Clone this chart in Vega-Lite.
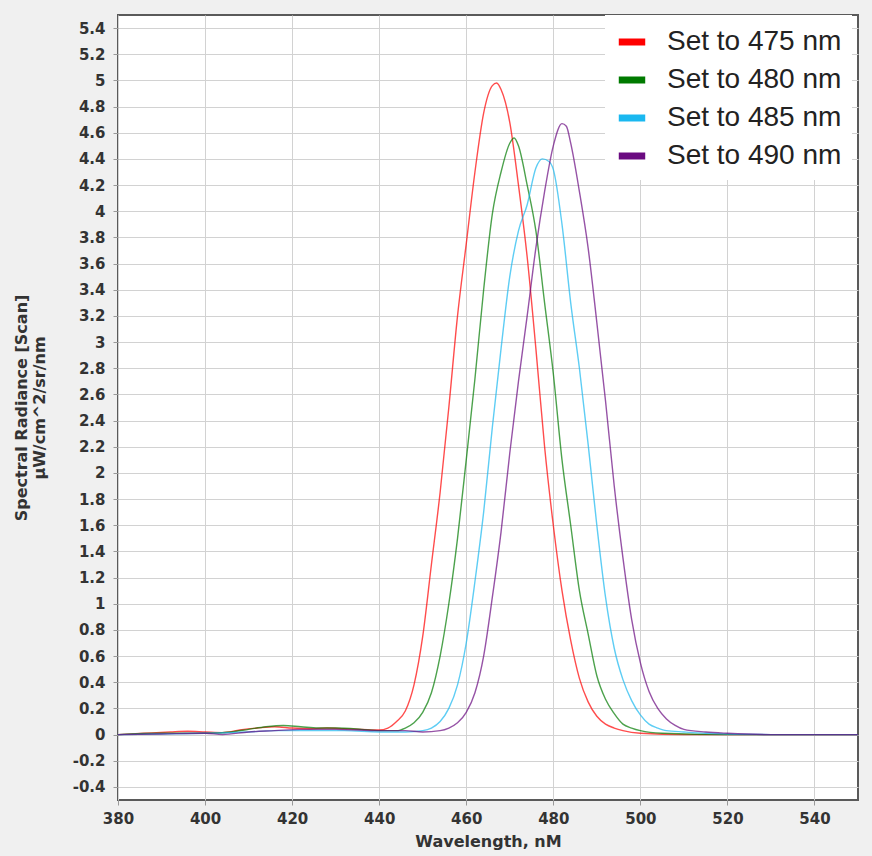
{
  "$schema": "https://vega.github.io/schema/vega-lite/v6.json",
  "width": 740,
  "height": 785,
  "autosize": {"type": "none"},
  "padding": {"left": 118, "top": 15, "right": 14, "bottom": 56},
  "background": "#f0f0f0",
  "config": {"view": {"fill": "white", "stroke": "#5a5a5a", "strokeWidth": 2}, "font": "DejaVu Sans"},
  "data": {"values": [
    {"s":"Set to 475 nm","x":380,"y":0},{"s":"Set to 475 nm","x":386,"y":0.01},{"s":"Set to 475 nm","x":392,"y":0.02},{"s":"Set to 475 nm","x":396,"y":0.025},{"s":"Set to 475 nm","x":400,"y":0.02},{"s":"Set to 475 nm","x":404,"y":0.015},{"s":"Set to 475 nm","x":408,"y":0.035},{"s":"Set to 475 nm","x":412,"y":0.05},{"s":"Set to 475 nm","x":416,"y":0.06},{"s":"Set to 475 nm","x":420,"y":0.05},{"s":"Set to 475 nm","x":424,"y":0.045},{"s":"Set to 475 nm","x":428,"y":0.05},{"s":"Set to 475 nm","x":432,"y":0.045},{"s":"Set to 475 nm","x":436,"y":0.04},{"s":"Set to 475 nm","x":440,"y":0.035},{"s":"Set to 475 nm","x":442,"y":0.05},{"s":"Set to 475 nm","x":444,"y":0.1},{"s":"Set to 475 nm","x":446,"y":0.18},{"s":"Set to 475 nm","x":448,"y":0.38},{"s":"Set to 475 nm","x":450,"y":0.75},{"s":"Set to 475 nm","x":452,"y":1.3},{"s":"Set to 475 nm","x":454,"y":1.85},{"s":"Set to 475 nm","x":456,"y":2.5},{"s":"Set to 475 nm","x":458,"y":3.2},{"s":"Set to 475 nm","x":460,"y":3.75},{"s":"Set to 475 nm","x":462,"y":4.3},{"s":"Set to 475 nm","x":464,"y":4.75},{"s":"Set to 475 nm","x":466,"y":4.96},{"s":"Set to 475 nm","x":467,"y":4.98},{"s":"Set to 475 nm","x":468,"y":4.93},{"s":"Set to 475 nm","x":470,"y":4.68},{"s":"Set to 475 nm","x":472,"y":4.2},{"s":"Set to 475 nm","x":474,"y":3.65},{"s":"Set to 475 nm","x":476,"y":2.95},{"s":"Set to 475 nm","x":478,"y":2.2},{"s":"Set to 475 nm","x":480,"y":1.6},{"s":"Set to 475 nm","x":482,"y":1.1},{"s":"Set to 475 nm","x":484,"y":0.72},{"s":"Set to 475 nm","x":486,"y":0.43},{"s":"Set to 475 nm","x":488,"y":0.25},{"s":"Set to 475 nm","x":490,"y":0.14},{"s":"Set to 475 nm","x":492,"y":0.08},{"s":"Set to 475 nm","x":494,"y":0.05},{"s":"Set to 475 nm","x":496,"y":0.03},{"s":"Set to 475 nm","x":500,"y":0.01},{"s":"Set to 475 nm","x":510,"y":0},{"s":"Set to 475 nm","x":520,"y":0},{"s":"Set to 475 nm","x":530,"y":0},{"s":"Set to 475 nm","x":550,"y":0},
    {"s":"Set to 480 nm","x":380,"y":0},{"s":"Set to 480 nm","x":390,"y":0.01},{"s":"Set to 480 nm","x":400,"y":0.01},{"s":"Set to 480 nm","x":406,"y":0.02},{"s":"Set to 480 nm","x":410,"y":0.04},{"s":"Set to 480 nm","x":414,"y":0.06},{"s":"Set to 480 nm","x":418,"y":0.07},{"s":"Set to 480 nm","x":422,"y":0.06},{"s":"Set to 480 nm","x":426,"y":0.05},{"s":"Set to 480 nm","x":430,"y":0.05},{"s":"Set to 480 nm","x":436,"y":0.04},{"s":"Set to 480 nm","x":440,"y":0.03},{"s":"Set to 480 nm","x":444,"y":0.03},{"s":"Set to 480 nm","x":446,"y":0.05},{"s":"Set to 480 nm","x":448,"y":0.09},{"s":"Set to 480 nm","x":450,"y":0.17},{"s":"Set to 480 nm","x":452,"y":0.32},{"s":"Set to 480 nm","x":454,"y":0.6},{"s":"Set to 480 nm","x":456,"y":1.0},{"s":"Set to 480 nm","x":458,"y":1.5},{"s":"Set to 480 nm","x":460,"y":2.1},{"s":"Set to 480 nm","x":462,"y":2.72},{"s":"Set to 480 nm","x":464,"y":3.4},{"s":"Set to 480 nm","x":466,"y":3.98},{"s":"Set to 480 nm","x":468,"y":4.3},{"s":"Set to 480 nm","x":470,"y":4.52},{"s":"Set to 480 nm","x":471,"y":4.56},{"s":"Set to 480 nm","x":472,"y":4.5},{"s":"Set to 480 nm","x":474,"y":4.2},{"s":"Set to 480 nm","x":476,"y":3.85},{"s":"Set to 480 nm","x":478,"y":3.3},{"s":"Set to 480 nm","x":480,"y":2.76},{"s":"Set to 480 nm","x":482,"y":2.1},{"s":"Set to 480 nm","x":484,"y":1.6},{"s":"Set to 480 nm","x":486,"y":1.1},{"s":"Set to 480 nm","x":488,"y":0.77},{"s":"Set to 480 nm","x":490,"y":0.45},{"s":"Set to 480 nm","x":492,"y":0.27},{"s":"Set to 480 nm","x":494,"y":0.16},{"s":"Set to 480 nm","x":496,"y":0.08},{"s":"Set to 480 nm","x":498,"y":0.05},{"s":"Set to 480 nm","x":500,"y":0.03},{"s":"Set to 480 nm","x":505,"y":0.01},{"s":"Set to 480 nm","x":520,"y":0},{"s":"Set to 480 nm","x":550,"y":0},
    {"s":"Set to 485 nm","x":380,"y":0},{"s":"Set to 485 nm","x":390,"y":0.005},{"s":"Set to 485 nm","x":400,"y":0.01},{"s":"Set to 485 nm","x":410,"y":0.02},{"s":"Set to 485 nm","x":416,"y":0.03},{"s":"Set to 485 nm","x":420,"y":0.03},{"s":"Set to 485 nm","x":426,"y":0.03},{"s":"Set to 485 nm","x":432,"y":0.03},{"s":"Set to 485 nm","x":440,"y":0.02},{"s":"Set to 485 nm","x":446,"y":0.02},{"s":"Set to 485 nm","x":450,"y":0.03},{"s":"Set to 485 nm","x":452,"y":0.05},{"s":"Set to 485 nm","x":454,"y":0.1},{"s":"Set to 485 nm","x":456,"y":0.2},{"s":"Set to 485 nm","x":458,"y":0.38},{"s":"Set to 485 nm","x":460,"y":0.7},{"s":"Set to 485 nm","x":462,"y":1.17},{"s":"Set to 485 nm","x":464,"y":1.7},{"s":"Set to 485 nm","x":466,"y":2.35},{"s":"Set to 485 nm","x":468,"y":2.95},{"s":"Set to 485 nm","x":470,"y":3.5},{"s":"Set to 485 nm","x":472,"y":3.85},{"s":"Set to 485 nm","x":474,"y":4.05},{"s":"Set to 485 nm","x":476,"y":4.33},{"s":"Set to 485 nm","x":477.5,"y":4.4},{"s":"Set to 485 nm","x":479,"y":4.38},{"s":"Set to 485 nm","x":480,"y":4.32},{"s":"Set to 485 nm","x":482,"y":3.9},{"s":"Set to 485 nm","x":484,"y":3.3},{"s":"Set to 485 nm","x":486,"y":2.8},{"s":"Set to 485 nm","x":488,"y":2.22},{"s":"Set to 485 nm","x":490,"y":1.6},{"s":"Set to 485 nm","x":492,"y":1.05},{"s":"Set to 485 nm","x":494,"y":0.66},{"s":"Set to 485 nm","x":496,"y":0.42},{"s":"Set to 485 nm","x":498,"y":0.26},{"s":"Set to 485 nm","x":500,"y":0.15},{"s":"Set to 485 nm","x":502,"y":0.08},{"s":"Set to 485 nm","x":504,"y":0.05},{"s":"Set to 485 nm","x":506,"y":0.03},{"s":"Set to 485 nm","x":510,"y":0.02},{"s":"Set to 485 nm","x":515,"y":0.01},{"s":"Set to 485 nm","x":530,"y":0},{"s":"Set to 485 nm","x":550,"y":0},
    {"s":"Set to 490 nm","x":380,"y":0},{"s":"Set to 490 nm","x":390,"y":0.005},{"s":"Set to 490 nm","x":400,"y":0.01},{"s":"Set to 490 nm","x":404,"y":0},{"s":"Set to 490 nm","x":410,"y":0.02},{"s":"Set to 490 nm","x":416,"y":0.03},{"s":"Set to 490 nm","x":422,"y":0.04},{"s":"Set to 490 nm","x":430,"y":0.04},{"s":"Set to 490 nm","x":440,"y":0.03},{"s":"Set to 490 nm","x":446,"y":0.03},{"s":"Set to 490 nm","x":450,"y":0.02},{"s":"Set to 490 nm","x":454,"y":0.03},{"s":"Set to 490 nm","x":456,"y":0.05},{"s":"Set to 490 nm","x":458,"y":0.09},{"s":"Set to 490 nm","x":460,"y":0.17},{"s":"Set to 490 nm","x":462,"y":0.32},{"s":"Set to 490 nm","x":464,"y":0.6},{"s":"Set to 490 nm","x":466,"y":1.05},{"s":"Set to 490 nm","x":468,"y":1.55},{"s":"Set to 490 nm","x":470,"y":2.15},{"s":"Set to 490 nm","x":472,"y":2.7},{"s":"Set to 490 nm","x":474,"y":3.2},{"s":"Set to 490 nm","x":476,"y":3.72},{"s":"Set to 490 nm","x":478,"y":4.15},{"s":"Set to 490 nm","x":480,"y":4.5},{"s":"Set to 490 nm","x":482,"y":4.67},{"s":"Set to 490 nm","x":483,"y":4.65},{"s":"Set to 490 nm","x":484,"y":4.52},{"s":"Set to 490 nm","x":486,"y":4.15},{"s":"Set to 490 nm","x":488,"y":3.72},{"s":"Set to 490 nm","x":490,"y":3.15},{"s":"Set to 490 nm","x":492,"y":2.55},{"s":"Set to 490 nm","x":494,"y":1.9},{"s":"Set to 490 nm","x":496,"y":1.35},{"s":"Set to 490 nm","x":498,"y":0.88},{"s":"Set to 490 nm","x":500,"y":0.55},{"s":"Set to 490 nm","x":502,"y":0.33},{"s":"Set to 490 nm","x":504,"y":0.2},{"s":"Set to 490 nm","x":506,"y":0.12},{"s":"Set to 490 nm","x":508,"y":0.07},{"s":"Set to 490 nm","x":510,"y":0.04},{"s":"Set to 490 nm","x":515,"y":0.02},{"s":"Set to 490 nm","x":520,"y":0.01},{"s":"Set to 490 nm","x":530,"y":0},{"s":"Set to 490 nm","x":550,"y":0}
  ]},
  "mark": {"type": "line", "strokeWidth": 1.4, "opacity": 0.7, "clip": true, "interpolate": "monotone"},
  "encoding": {
    "x": {
      "field": "x", "type": "quantitative",
      "scale": {"domain": [380, 550], "nice": false, "zero": false},
      "axis": {
        "values": [380, 400, 420, 440, 460, 480, 500, 520, 540],
        "title": "Wavelength, nM",
        "grid": true, "gridColor": "#d2d2d2", "gridWidth": 1,
        "domain": false, "tickColor": "#999999", "tickSize": 5,
        "labelFlush": false,
        "labelFont": "DejaVu Sans", "labelFontWeight": "bold", "labelFontSize": 15, "labelColor": "#333333", "labelPadding": 6,
        "titleFont": "DejaVu Sans", "titleFontSize": 16, "titleFontWeight": "bold", "titleColor": "#333333", "titlePadding": 7
      }
    },
    "y": {
      "field": "y", "type": "quantitative",
      "scale": {"domain": [-0.5, 5.5], "nice": false, "zero": false},
      "axis": {
        "values": [-0.4, -0.2, 0, 0.2, 0.4, 0.6, 0.8, 1, 1.2, 1.4, 1.6, 1.8, 2, 2.2, 2.4, 2.6, 2.8, 3, 3.2, 3.4, 3.6, 3.8, 4, 4.2, 4.4, 4.6, 4.8, 5, 5.2, 5.4],
        "labelExpr": "'' + datum.value",
        "labelFlush": false,
        "title": ["Spectral Radiance [Scan]", "µW/cm^2/sr/nm"],
        "grid": true, "gridColor": "#d2d2d2", "gridWidth": 1,
        "domain": false, "tickColor": "#999999", "tickSize": 5,
        "labelFont": "DejaVu Sans", "labelFontWeight": "bold", "labelFontSize": 15, "labelColor": "#333333", "labelPadding": 8,
        "titleFont": "DejaVu Sans", "titleFontSize": 16, "titleFontWeight": "bold", "titleColor": "#333333", "titlePadding": 25, "titleLineHeight": 18
      }
    },
    "color": {
      "field": "s", "type": "nominal",
      "scale": {"domain": ["Set to 475 nm", "Set to 480 nm", "Set to 485 nm", "Set to 490 nm"], "range": ["#ff0000", "#007a00", "#1ab8f0", "#6a0a80"]},
      "legend": {
        "orient": "none", "legendX": 487, "legendY": 0, "title": null,
        "fillColor": "white", "padding": 10,
        "symbolType": "stroke", "symbolStrokeWidth": 7, "symbolSize": 700, "symbolOpacity": 1,
        "labelFont": "Liberation Sans", "labelFontSize": 28, "labelColor": "#222222", "labelOffset": 18, "labelLimit": 0,
        "rowPadding": 7
      }
    }
  }
}
